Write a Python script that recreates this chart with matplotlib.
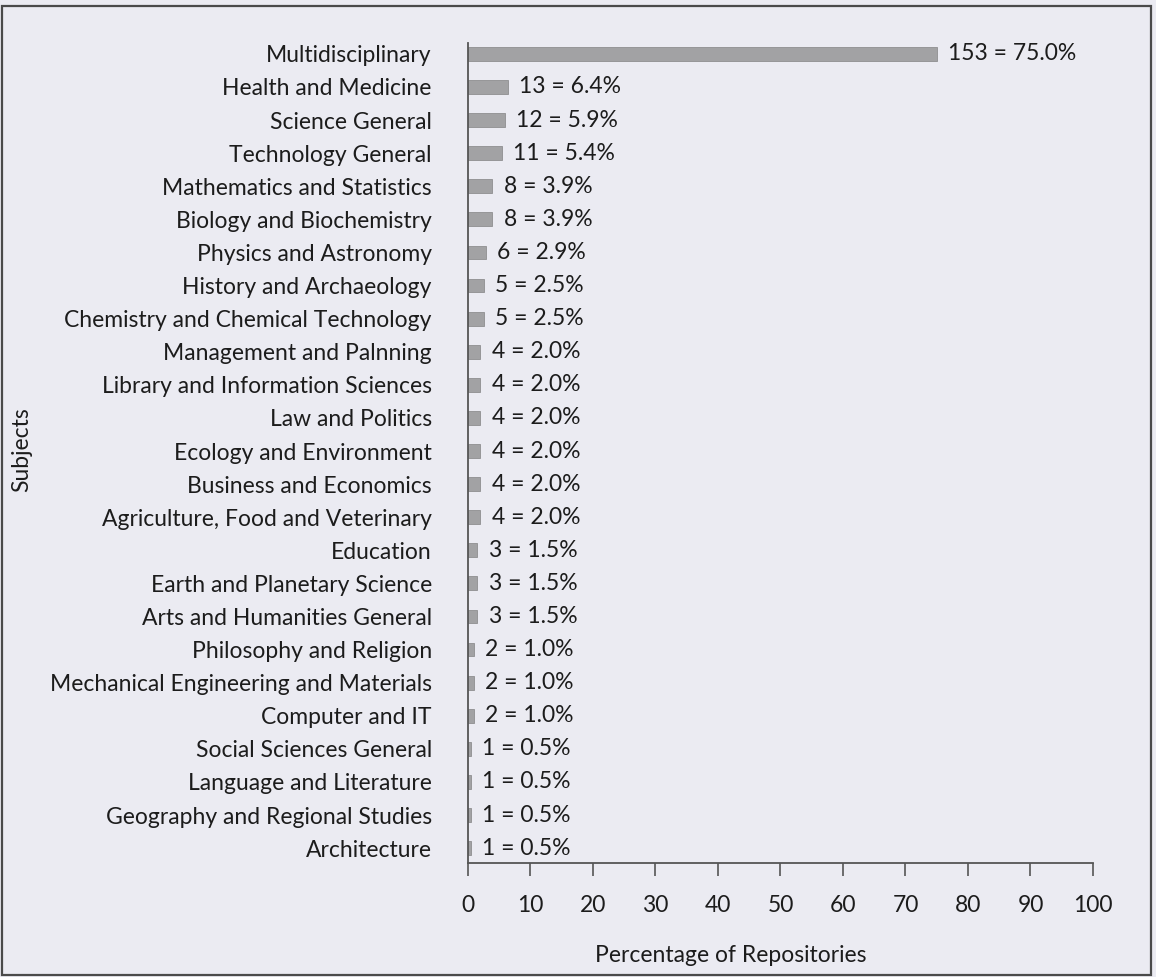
import matplotlib.pyplot as plt
from matplotlib.patches import Rectangle

# subjects of the repositories, top to bottom
subjects = ['Multidisciplinary', 'Health and Medicine', 'Science General',
            'Technology General', 'Mathematics and Statistics',
            'Biology and Biochemistry', 'Physics and Astronomy',
            'History and Archaeology', 'Chemistry and Chemical Technology',
            'Management and Palnning', 'Library and Information Sciences',
            'Law and Politics', 'Ecology and Environment',
            'Business and Economics', 'Agriculture, Food and Veterinary',
            'Education', 'Earth and Planetary Science',
            'Arts and Humanities General', 'Philosophy and Religion',
            'Mechanical Engineering and Materials', 'Computer and IT',
            'Social Sciences General', 'Language and Literature',
            'Geography and Regional Studies', 'Architecture']
counts = [153, 13, 12, 11, 8, 8, 6, 5, 5, 4, 4, 4, 4, 4, 4, 3, 3, 3, 2, 2, 2, 1, 1, 1, 1]
percents = [75.0, 6.4, 5.9, 5.4, 3.9, 3.9, 2.9, 2.5, 2.5, 2.0, 2.0, 2.0, 2.0, 2.0, 2.0,
            1.5, 1.5, 1.5, 1.0, 1.0, 1.0, 0.5, 0.5, 0.5, 0.5]
xticks = [0, 10, 20, 30, 40, 50, 60, 70, 80, 90, 100]

plt.rcParams['font.family'] = ['Lato', 'DejaVu Sans']
txt = '#1c1c1c'
bg = '#ebebf2'
fs = 16.5

fig = plt.figure(figsize=(11.56, 9.77), dpi=100, facecolor=bg)
ax = fig.add_axes([0.4048, 0.1167, 0.5407, 0.8393])
ax.set_facecolor(bg)

pos = list(range(len(subjects)))
ax.barh(pos, percents, height=0.42, color='#a2a2a4', edgecolor='#8e8e90', linewidth=0.6)

# value labels
for p, c, v in zip(pos, counts, percents):
    ax.text(v + 1.8, p, f'{c} = {v:.1f}%', va='center', ha='left', fontsize=fs, color=txt)

ax.set_ylim(24.45, -0.33)
ax.set_xlim(0, 100)
ax.set_yticks(pos)
ax.set_yticklabels(subjects, fontsize=fs, color=txt)
ax.tick_params(axis='y', length=0, pad=26)
ax.set_xticks(xticks)
ax.set_xticklabels([str(t) for t in xticks], fontsize=fs, color=txt)
ax.tick_params(axis='x', length=9, width=1.2, color='#555555', pad=14, direction='out')

for s in ['top', 'right']:
    ax.spines[s].set_visible(False)
for s in ['left', 'bottom']:
    ax.spines[s].set_color('#555555')
    ax.spines[s].set_linewidth(1.3)

ax.set_xlabel('Percentage of Repositories', fontsize=fs, color=txt)
ax.xaxis.set_label_coords(0.42, -0.1)
fig.text(0.019, 0.54, 'Subjects', rotation=90, fontsize=fs, color=txt, va='center', ha='center')

# chart border
fig.patches.append(Rectangle((0.0013, 0.002), 0.9945, 0.9919, transform=fig.transFigure,
                             fill=False, edgecolor='#4a4a4a', linewidth=1.6))

fig.savefig('out.png', dpi=100, facecolor=bg)
